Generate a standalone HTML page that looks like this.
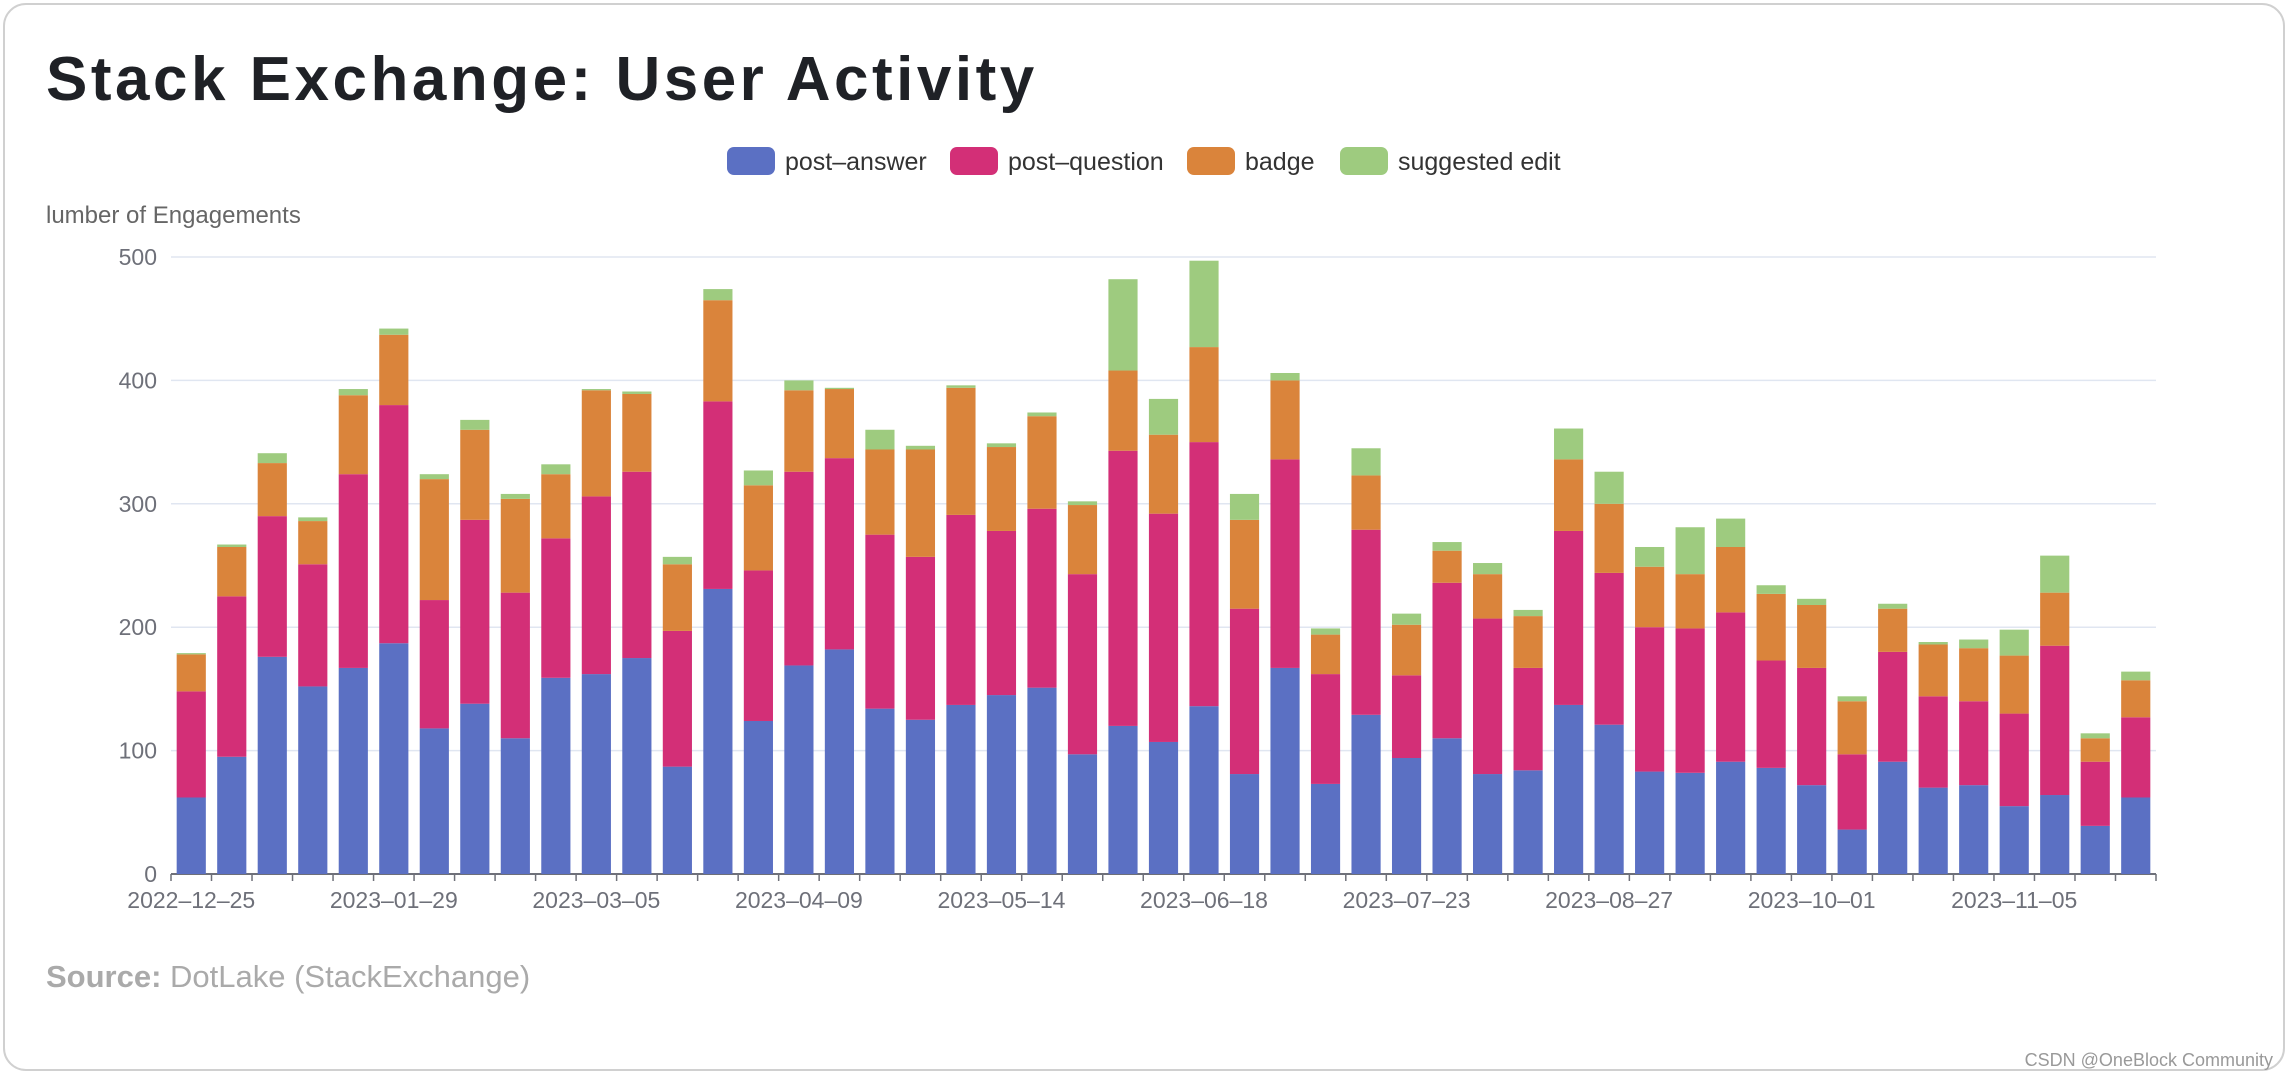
<!DOCTYPE html>
<html><head><meta charset="utf-8"><style>
html,body{margin:0;padding:0;background:#fff;}
svg{display:block;font-family:"Liberation Sans",sans-serif;}
</style></head><body>
<svg id="chart" width="2292" height="1082" viewBox="0 0 2292 1082">
<rect x="4" y="4" width="2280" height="1066" rx="22" fill="#fff" stroke="#d0d0d0" stroke-width="2"/>
<text x="46" y="100" font-size="62" font-weight="bold" letter-spacing="3.5" fill="#1f2126">Stack Exchange: User Activity</text>
<g id="legend"></g>
<text x="46" y="223" font-size="24" fill="#666">lumber of Engagements</text>
<g id="grid"></g><g id="bars"></g><g id="xaxis"></g>
<text x="46" y="987" font-size="31" fill="#aaa"><tspan font-weight="bold">Source:</tspan> DotLake (StackExchange)</text>
<text x="2273" y="1066" font-size="18" fill="#999" text-anchor="end">CSDN @OneBlock Community</text>
</svg>
<script>
const answers=[62,95,176,152,167,187,118,138,110,159,162,175,87,231,124,169,182,134,125,137,145,151,97,120,107,136,81,167,73,129,94,110,81,84,137,121,83,82,91,86,72,36,91,70,72,55,64,39,62];
const questions=[86,130,114,99,157,193,104,149,118,113,144,151,110,152,122,157,155,141,132,154,133,145,146,223,185,214,134,169,89,150,67,126,126,83,141,123,117,117,121,87,95,61,89,74,68,75,121,52,65];
const badges=[30,40,43,35,64,57,98,73,76,52,86,63,54,82,69,66,56,69,87,103,68,75,56,65,64,77,72,64,32,44,41,26,36,42,58,56,49,44,53,54,51,43,35,42,43,47,43,19,30];
const suggested=[1,2,8,3,5,5,4,8,4,8,1,2,6,9,12,8,1,16,3,2,3,3,3,74,29,70,21,6,5,22,9,7,9,5,25,26,16,38,23,7,5,4,4,2,7,21,30,4,7];
const seriesNames=["post-answer","post-question","badge","suggested edit"];
const yTicks=[0,100,200,300,400,500];
const startDate="2022-12-25";
const colors=["#5b70c3","#d32f77","#da843b","#9ecb7f"];
const NS="http://www.w3.org/2000/svg";
const X0=171,X1=2156,Y0=874,Y1=257,YMAX=500;
const n=answers.length, band=(X1-X0)/n;
const y=v=>Y0-(v/YMAX)*(Y0-Y1);
function mk(tag,attrs,parent){const e=document.createElementNS(NS,tag);for(const k in attrs)e.setAttribute(k,attrs[k]);parent.appendChild(e);return e;}
const grid=document.getElementById('grid');
yTicks.forEach(t=>{
  const l=mk('line',{x1:X0,x2:X1,y1:y(t),y2:y(t),stroke:t===0?'#6e7079':'#e0e6f1','stroke-width':t===0?2:1.5},grid);
  
  
  const tx=mk('text',{x:X0-14,y:y(t)+8,'font-size':23,fill:'#6e7079','text-anchor':'end'},grid);
  tx.textContent=t;
  
  
});
const bars=document.getElementById('bars');
const data=[answers,questions,badges,suggested];
const bw=band*0.72;
for(let i=0;i<n;i++){
  let acc=0;
  const cx=X0+band*(i+0.5);
  data.forEach((arr,s)=>{
    const v=arr[i];
    const r=mk('rect',{x:cx-bw/2,y:y(acc+v),width:bw,height:Math.max(0,y(acc)-y(acc+v)),fill:colors[s]},bars);
    
    
    acc+=v;
  });
}
const xa=document.getElementById('xaxis');
const d0=new Date(startDate+"T00:00:00Z");
for(let i=0;i<=n;i++){
  const tx=X0+band*i;
  mk('line',{x1:tx,x2:tx,y1:Y0,y2:Y0+7,stroke:'#6e7079','stroke-width':1.5},xa);
}
for(let i=0;i<n;i+=5){
  const d=new Date(d0.getTime()+i*7*86400000);
  const lab=d.toISOString().slice(0,10).replace(/-/g,'\u2013');
  const t=mk('text',{x:X0+band*(i+0.5),y:Y0+34,'font-size':23,fill:'#6e7079','text-anchor':'middle'},xa);
  t.textContent=lab;
  
  
}
const lg=document.getElementById('legend');
const lx=[727,950,1187,1340];
seriesNames.forEach((nm,s)=>{
  const g=mk('g',{},lg);
  
  
  mk('rect',{x:lx[s],y:147,width:48,height:28,rx:7,fill:colors[s]},g);
  const t=mk('text',{x:lx[s]+58,y:170,'font-size':25,fill:'#333'},g);
  t.textContent=nm.replace('-','\u2013');
});
</script>
</body></html>
